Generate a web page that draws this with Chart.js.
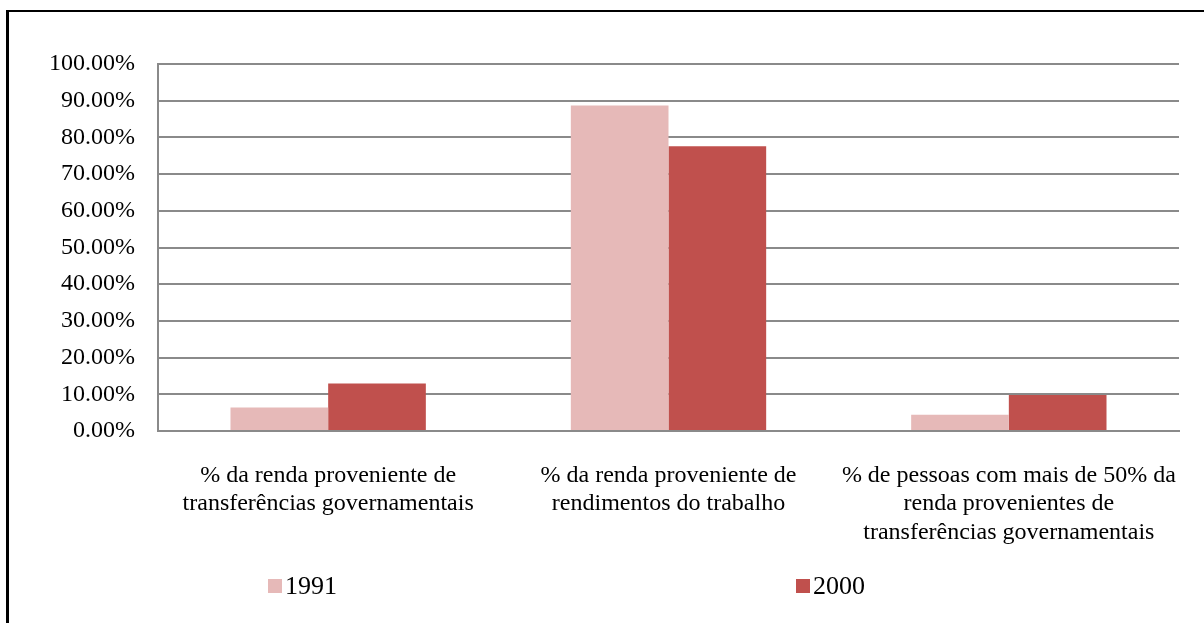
<!DOCTYPE html>
<html>
<head>
<meta charset="utf-8">
<script src="https://cdn.jsdelivr.net/npm/chart.js@4/dist/chart.umd.min.js"></script>
<style>
  html, body { margin: 0; padding: 0; background: #fff; overflow: hidden; }
  #frame {
    position: absolute; left: 6px; top: 10px; width: 1400px; height: 800px;
    border-left: 3px solid #000; border-top: 2px solid #000;
  }
  #wrap { position: absolute; left: 0; top: 0; width: 1204px; height: 623px; }
</style>
</head>
<body>
<div id="frame"></div>
<div id="wrap"><canvas id="chart" width="1204" height="623"></canvas></div>
<script>
"use strict";

const categories = [
	["% da renda proveniente de", "transferências governamentais"],
	["% da renda proveniente de", "rendimentos do trabalho"],
	["% de pessoas com mais de 50% da", "renda provenientes de", "transferências governamentais"]
];
const seriesNames = ["1991", "2000"];
const values1991 = [6.4, 88.7, 4.45];
const values2000 = [12.95, 77.6, 9.8];
const yTicks = [0, 10, 20, 30, 40, 50, 60, 70, 80, 90, 100];

const FONT = "'Liberation Serif', 'Times New Roman', serif";
const GRID = "#8a8a8a";

// legend drawn by hand, Excel spreads the two entries far apart
const legendPlugin = {
	id: "wideLegend",
	afterDraw: function (chart) {
		const ctx = chart.ctx;
		const xs = [268, 796];
		const y = 586;
		ctx.save();
		ctx.font = "26px " + FONT;
		ctx.textBaseline = "middle";
		ctx.fillStyle = "#000";
		chart.data.datasets.forEach(function (ds, i) {
			ctx.fillStyle = ds.backgroundColor;
			ctx.fillRect(xs[i], y - 7, 14, 14);
			ctx.fillStyle = "#000";
			ctx.fillText(ds.label, xs[i] + 17, y + 1);
		});
		ctx.restore();
	}
};

new Chart(document.getElementById("chart"), {
	type: "bar",
	data: {
		labels: categories,
		datasets: [
			{ label: seriesNames[0], data: values1991, backgroundColor: "#e6b9b8" },
			{ label: seriesNames[1], data: values2000, backgroundColor: "#c0504d" }
		]
	},
	options: {
		responsive: false,
		animation: false,
		devicePixelRatio: 1,
		barPercentage: 1,
		categoryPercentage: 0.574,
		layout: { padding: { left: 0, right: 25, top: 64, bottom: 0 } },
		plugins: {
			legend: { display: false },
			tooltip: { enabled: false }
		},
		scales: {
			x: {
				grid: { display: false },
				border: { display: true, color: GRID, width: 2 },
				ticks: {
					color: "#000",
					font: { family: FONT, size: 24, lineHeight: 1.2 },
					padding: 22,
					maxRotation: 0,
					autoSkip: false
				},
				afterFit: function (scale) { scale.height = 192; }
			},
			y: {
				min: 0,
				max: 100,
				afterBuildTicks: function (scale) {
					scale.ticks = yTicks.map(function (v) { return { value: v }; });
				},
				grid: { color: GRID, lineWidth: 2, drawTicks: false },
				border: { display: true, color: GRID, width: 2 },
				ticks: {
					color: "#000",
					font: { family: FONT, size: 24 },
					padding: 23,
					callback: function (v) { return v.toFixed(2) + "%"; }
				},
				afterFit: function (scale) { scale.width = 158; }
			}
		}
	},
	plugins: [legendPlugin]
});
</script>
</body>
</html>
